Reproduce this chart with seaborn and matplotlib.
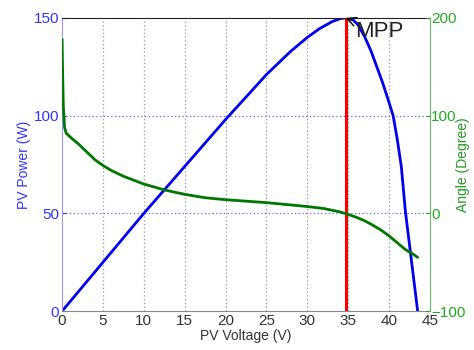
import pandas as pd
import matplotlib
matplotlib.use("Agg")
import matplotlib.pyplot as plt
import seaborn as sns

# Power curve (V, W)
volt_p = [0, 5, 10, 15, 20, 25, 28, 30, 31.5, 33, 34, 34.7, 35.5, 36.2, 37.0, 37.8, 38.5, 39.2, 39.9, 40.5,
          41.0, 41.5, 42.0, 42.5, 43.0, 43.5]
power = [0, 25, 50, 74, 98, 121, 133, 140, 144.5, 148, 149.6, 150, 149.3, 146.5, 140.5, 133, 125, 117, 108, 100,
         88, 74, 51, 34, 17, 0]

# Angle curve (V, degree)
volt_a = [0, 0.05, 0.15, 0.3, 0.5, 1, 2, 3, 4, 5, 6, 7.5, 10, 12.5, 15, 17.5, 20, 25, 30, 32, 34, 35, 36, 37,
          38, 39, 40, 41, 42, 43, 43.5]
angle = [178, 150, 110, 88, 82, 78, 71, 63, 55, 49, 44, 38, 30, 24, 19.5, 16, 14, 11, 7, 5, 1.5, -1, -4, -7.5,
         -12, -17, -23, -30, -37, -42, -45]

mpp_v = 34.7
mpp_p = 150

sns.set_style("white")
plt.rcParams['font.family'] = ['Liberation Sans', 'DejaVu Sans']

fig = plt.figure(figsize=(4.74, 3.5), dpi=100)
ax = fig.add_axes([0.131, 0.111, 0.776, 0.838])

df_p = pd.DataFrame({"v": volt_p, "p": power})
sns.lineplot(data=df_p, x="v", y="p", ax=ax, color="#0000ee", linewidth=2, sort=False)

ax.set_xlim(0, 45)
ax.set_ylim(0, 150)
ax.set_xticks(range(0, 46, 5))
ax.set_yticks([0, 50, 100, 150])

# grid
for x in range(5, 45, 5):
    ax.axvline(x, color="#999999", linestyle=(0, (1, 2)), linewidth=0.9, zorder=0)
for y in [50, 100]:
    ax.axhline(y, color="#6666ee", linestyle=(0, (1, 2)), linewidth=0.9, zorder=0)

ax.plot([mpp_v, mpp_v], [0, mpp_p], color="red", linewidth=2.2)

ax.annotate("MPP", xy=(mpp_v, mpp_p), xytext=(mpp_v + 1.2, 143),
            fontsize=16, color="#222222", va="center", ha="left",
            arrowprops=dict(arrowstyle="->", color="black", lw=1.0, shrinkA=0, shrinkB=0))

ax.set_xlabel("PV Voltage (V)", fontsize=10, color="#333333", labelpad=1)
ax.set_ylabel("PV Power (W)", fontsize=10, color="#3333ff", labelpad=2)
ax.tick_params(axis="x", colors="#333333", labelsize=11, length=3, direction="in", pad=2)
ax.tick_params(axis="y", colors="#3333ff", labelsize=11, length=3, direction="in", pad=2)
ax.spines["left"].set_color("#9999ff")
ax.spines["bottom"].set_color("#888888")
ax.spines["top"].set_color("#222222")
ax.spines["right"].set_visible(False)

ax2 = ax.twinx()
df_a = pd.DataFrame({"v": volt_a, "a": angle})
sns.lineplot(data=df_a, x="v", y="a", ax=ax2, color="#007700", linewidth=2, sort=False)
ax2.set_ylim(-100, 200)
ax2.set_yticks([-100, 0, 100, 200])
ax2.set_ylabel("Angle (Degree)", fontsize=10, color="#229922", va="center")
ax2.yaxis.set_label_coords(1.09, 0.5)
ax2.tick_params(axis="y", colors="#22aa22", labelsize=11, length=3, direction="in", pad=1)
ax2.spines["right"].set_color("#66bb66")
for s in ["left", "top", "bottom"]:
    ax2.spines[s].set_visible(False)

fig.savefig("out.png", dpi=100)
